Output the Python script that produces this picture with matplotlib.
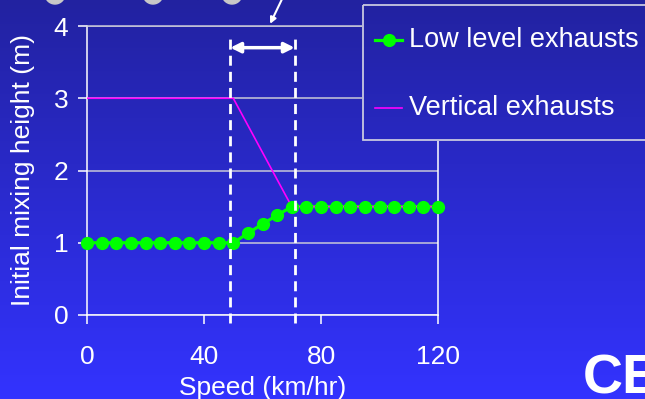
import matplotlib
matplotlib.use("Agg")
import matplotlib.pyplot as plt
from matplotlib.patches import Ellipse, Rectangle
import numpy as np

plt.rcParams['font.family'] = ['Liberation Sans', 'DejaVu Sans']

# данные
speed = [0, 5, 10, 15, 20, 25, 30, 35, 40, 45, 50, 55, 60, 65, 70,
         75, 80, 85, 90, 95, 100, 105, 110, 115, 120]
low_level = [1, 1, 1, 1, 1, 1, 1, 1, 1, 1, 1, 1.13, 1.26, 1.38, 1.5,
             1.5, 1.5, 1.5, 1.5, 1.5, 1.5, 1.5, 1.5, 1.5, 1.5]
vert_speed = [0, 50, 70, 120]
vertical = [3, 3, 1.5, 1.5]
band = [49, 71]  # пунктирные границы
xticks = [0, 40, 80, 120]
yticks = [0, 1, 2, 3, 4]
series_names = ['Low level exhausts', 'Vertical exhausts']

W, H = 645, 399
fig = plt.figure(figsize=(W / 100, H / 100), dpi=100)

top_c = np.array([34, 34, 160]) / 255
bot_c = np.array([51, 51, 255]) / 255


def gradient(y0, y1):
    # кусок вертикального градиента фона между пикселями y0..y1 (сверху)
    t = np.linspace(y0 / H, y1 / H, 256)[:, None]
    g = top_c * (1 - t) + bot_c * t
    return g[:, None, :].repeat(2, axis=1)


# градиентный фон слайда
bg = fig.add_axes([0, 0, 1, 1], zorder=-10)
bg.imshow(gradient(0, H), aspect='auto', extent=[0, 1, 0, 1])
bg.axis('off')

# серые кружки сверху
for cx in [55, 153, 232]:
    fig.add_artist(Ellipse((cx / W, (H + 6) / H), 20 / W, 20 / H,
                           color='#c8c8c8', transform=fig.transFigure))

ax = fig.add_axes([87 / W, 1 - 315 / H, 351 / W, 289 / H])
ax.set_facecolor('none')

ax.plot(speed, low_level, color='#00ff00', lw=2.3, zorder=3)
ax.plot(vert_speed, vertical, color='#ff00ff', lw=1.2, zorder=4)
ax.plot(speed, low_level, ls='none', marker='o', ms=8.5, color='#00ff00',
        mec='#00ff00', zorder=5, clip_on=False)

for b in band:
    ax.axvline(b, ymin=-0.028, ymax=0.975, color='white', lw=2,
               ls=(0, (3.6, 2.2)), clip_on=False, zorder=6)

ax.annotate('', xy=(band[0], 3.7), xytext=(band[1], 3.7),
            arrowprops=dict(arrowstyle='<|-|>', color='white', lw=2.5,
                            mutation_scale=15, shrinkA=0, shrinkB=0))
ax.annotate('', xy=(62.6, 4.03), xytext=(67, 4.4), annotation_clip=False,
            arrowprops=dict(arrowstyle='-|>', color='white', lw=1.5,
                            mutation_scale=9, shrinkA=0, shrinkB=0))

ax.set_xlim(0, 120)
ax.set_ylim(0, 4)
ax.set_xticks(xticks)
ax.set_yticks(yticks)
ax.yaxis.grid(True, color='#c8c8d8', lw=1.1)
ax.set_axisbelow(True)
for s in ['left', 'bottom', 'right']:
    ax.spines[s].set_color('white')
    ax.spines[s].set_linewidth(1.1)
ax.spines['top'].set_color('#c8c8d8')
ax.spines['top'].set_linewidth(1.1)
ax.tick_params(axis='both', colors='white', labelsize=19, length=6.5, width=1.1)
ax.tick_params(axis='x', pad=15)
ax.tick_params(axis='y', pad=7)
ax.set_xlabel('Speed (km/hr)', color='white', fontsize=19, labelpad=5)
ax.set_ylabel('Initial mixing height (m)', color='white', fontsize=19, labelpad=13)

# легенда вручную: непрозрачный блок поверх графика
lx0, ly0, ly1 = 362, 4, 141
lw_px = W - lx0 + 20
lg = fig.add_axes([lx0 / W, 1 - ly1 / H, lw_px / W, (ly1 - ly0) / H],
                  zorder=5)
lg.imshow(gradient(ly0, ly1), aspect='auto', extent=[0, lw_px, ly1, ly0])
lg.set_xlim(0, lw_px)
lg.set_ylim(ly1, ly0)
lg.axis('off')
lg.add_patch(Rectangle((0.8, ly0 + 0.8), W, ly1 - ly0 - 1.6, fill=False,
                       edgecolor='#c8c8e0', lw=1.3))
rows = [40, 108]
lg.plot([13, 40], [rows[0], rows[0]], color='#00ff00', lw=2.3)
lg.plot([26.5], [rows[0]], marker='o', ms=8.5, color='#00ff00')
lg.plot([13, 40], [rows[1], rows[1]], color='#ff00ff', lw=1.2)
for r, name in zip(rows, series_names):
    lg.text(47, r, name, color='white', fontsize=19.5, va='center', ha='left')

fig.text(583 / W, 5 / H, 'CE', color='white', fontsize=40,
         fontweight='bold', ha='left', va='baseline')

fig.savefig('out.png', dpi=100)
